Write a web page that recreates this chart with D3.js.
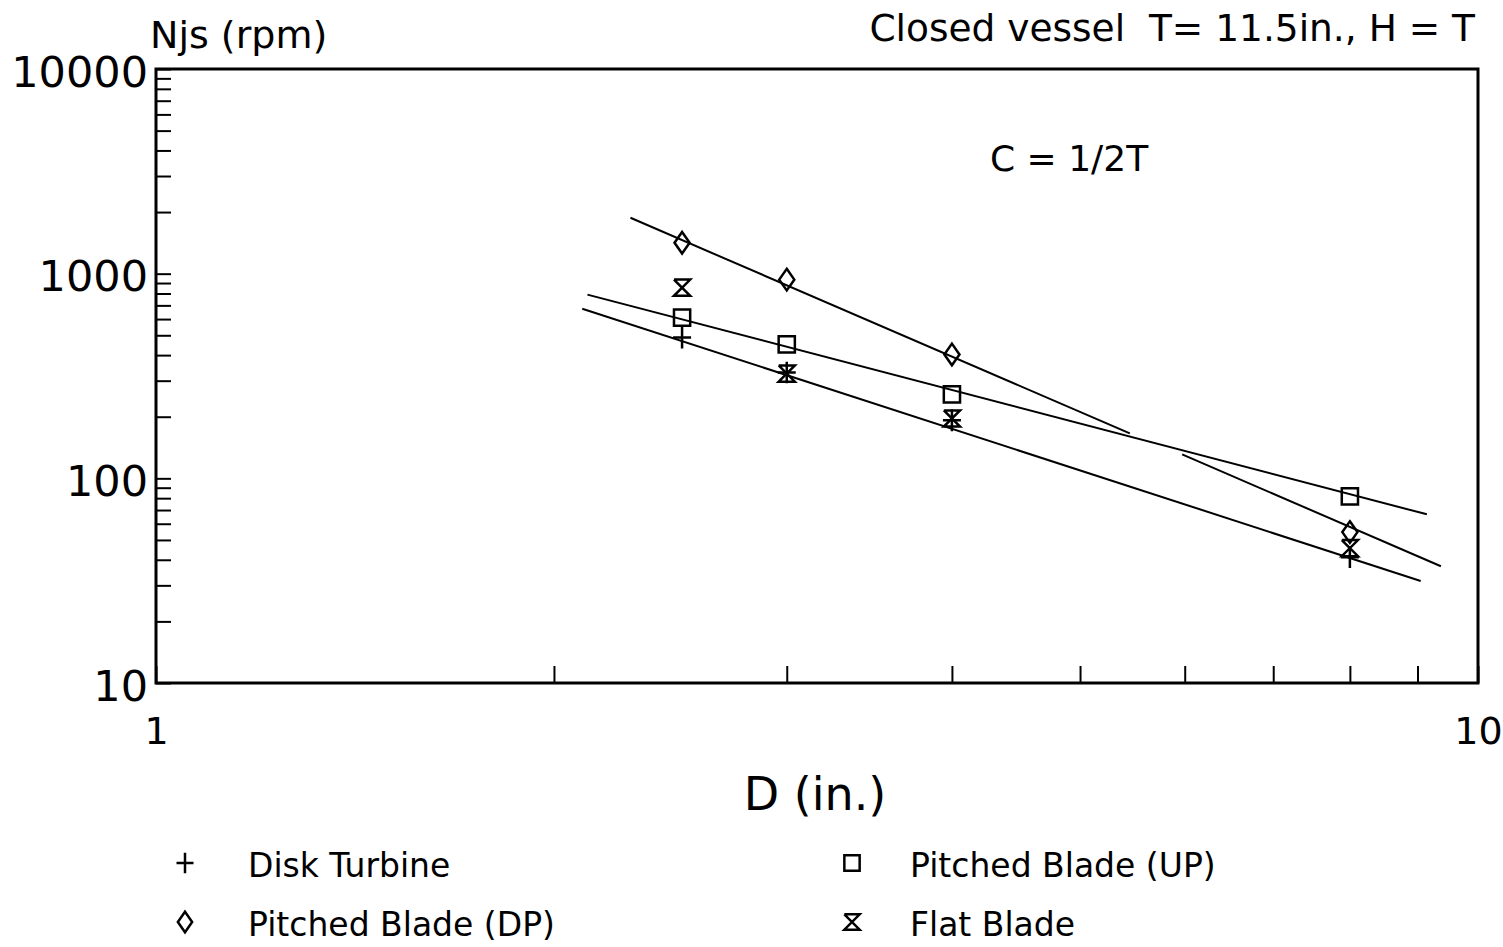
<!DOCTYPE html>
<html>
<head>
<meta charset="utf-8">
<script src="https://cdn.jsdelivr.net/npm/d3@7"></script>
<style>
  body { margin: 0; background: #fff; }
  text { font-family: "DejaVu Sans", sans-serif; fill: #000; }
</style>
</head>
<body>
<svg id="chart"></svg>
<script>
// Data
const diameters = [2.5, 3, 4, 8];
const diskTurbine = [487, 329, 192, 41.2];
const pitchedDP = [1416, 935, 403, 54.6];
const pitchedUP = [610, 451, 257, 81.7];
const flatBlade = [854, 325, 196, 45.6];

// fitted lines (end points, D in inches, Njs in rpm)
const dpFitA = [[2.285, 1875], [5.453, 165.8]];
const dpFitB = [[5.973, 130.9], [9.374, 37.2]];
const upFit = [[2.12, 790], [9.148, 66.7]];
const diskFit = [[2.101, 674], [9.05, 31.5]];

const yMajor = [10, 100, 1000, 10000];
const xLabels = [1, 10];

let width = 1503, height = 947;
let margin = { top: 69, bottom: 264, left: 156, right: 25 };

let svg = d3.select('#chart')
    .attr('width', width)
    .attr('height', height);

let xScale = d3.scaleLog()
    .domain([1, 10])
    .range([margin.left, width - margin.right]);

let yScale = d3.scaleLog()
    .domain([10, 10000])
    .range([height - margin.bottom, margin.top]);

// minor + major ticks
let yTicks = [];
yMajor.slice(0, 3).forEach(d => { for (let k = 1; k < 10; k++) yTicks.push(d * k); });
yTicks.push(10000);
let xTicks = d3.range(1, 11);

let xAxis = svg.append('g')
    .attr('transform', `translate(0, ${height - margin.bottom})`)
    .call(d3.axisBottom(xScale)
        .tickValues(xTicks)
        .tickSize(-17)
        .tickPadding(34)
        .tickFormat(d => xLabels.includes(d) ? d : ''));

let yAxis = svg.append('g')
    .attr('transform', `translate(${margin.left}, 0)`)
    .call(d3.axisLeft(yScale)
        .tickValues(yTicks)
        .tickSize(-15)
        .tickPadding(8)
        .tickFormat(d => yMajor.includes(d) ? d : ''));

svg.selectAll('.domain').remove();
svg.selectAll('.tick line').attr('stroke', '#000').attr('stroke-width', 2);
xAxis.selectAll('text').style('font-size', '38px').attr('fill', '#000');
yAxis.selectAll('text').style('font-size', '43px').attr('dy', '0.4em').attr('fill', '#000');

// frame
svg.append('rect')
    .attr('x', margin.left)
    .attr('y', margin.top)
    .attr('width', width - margin.left - margin.right)
    .attr('height', height - margin.top - margin.bottom)
    .attr('fill', 'none')
    .attr('stroke', '#000')
    .attr('stroke-width', 3);

// fit lines
let line = d3.line().x(d => xScale(d[0])).y(d => yScale(d[1]));
[dpFitA, dpFitB, upFit, diskFit].forEach(f => {
    svg.append('path')
        .attr('d', line(f))
        .attr('fill', 'none')
        .attr('stroke', '#000')
        .attr('stroke-width', 2);
});

// marker shapes
function marker(type, s) {
    let p = d3.path();
    if (type === 'plus') {
        p.moveTo(-s * 0.5, 0); p.lineTo(s * 0.5, 0);
        p.moveTo(0, -s * 0.6); p.lineTo(0, s * 0.6);
    } else if (type === 'diamond') {
        p.moveTo(0, -s * 0.6); p.lineTo(s * 0.42, 0); p.lineTo(0, s * 0.6); p.lineTo(-s * 0.42, 0); p.closePath();
    } else if (type === 'square') {
        p.rect(-s * 0.45, -s * 0.45, s * 0.9, s * 0.9);
    } else if (type === 'hourglass') {
        let h = s * 0.45;
        p.moveTo(-h, -h); p.lineTo(h, -h); p.lineTo(-h, h); p.lineTo(h, h); p.lineTo(-h, -h);
    }
    return p.toString();
}

let series = [
    { name: 'Disk Turbine', values: diskTurbine, type: 'plus' },
    { name: 'Pitched Blade (DP)', values: pitchedDP, type: 'diamond' },
    { name: 'Pitched Blade (UP)', values: pitchedUP, type: 'square' },
    { name: 'Flat Blade', values: flatBlade, type: 'hourglass' }
];

series.forEach(s => {
    svg.selectAll(null)
        .data(s.values)
        .enter()
        .append('path')
        .attr('transform', (d, i) => `translate(${xScale(diameters[i])}, ${yScale(d)})`)
        .attr('d', marker(s.type, 18))
        .attr('fill', 'none')
        .attr('stroke', '#000')
        .attr('stroke-width', 2.5);
});

// titles
svg.append('text')
    .attr('x', 150).attr('y', 48)
    .style('font-size', '38px')
    .text('Njs (rpm)');

svg.append('text')
    .attr('x', 1475).attr('y', 41)
    .attr('text-anchor', 'end')
    .style('font-size', '37.5px')
    .style('white-space', 'pre')
    .text('Closed vessel  T= 11.5in., H = T');

svg.append('text')
    .attr('x', 990).attr('y', 171)
    .style('font-size', '36px')
    .text('C = 1/2T');

svg.append('text')
    .attr('x', 815).attr('y', 810)
    .attr('text-anchor', 'middle')
    .style('font-size', '46px')
    .text('D (in.)');

// legend
let legendPos = [[185, 248, 865], [185, 248, 924], [852, 910, 865], [852, 910, 924]];
series.forEach((s, i) => {
    let [mx, tx, ty] = legendPos[i];
    svg.append('path')
        .attr('transform', `translate(${mx}, ${ty - 2})`)
        .attr('d', marker(s.type, 17))
        .attr('fill', 'none')
        .attr('stroke', '#000')
        .attr('stroke-width', 2.5);
    svg.append('text')
        .attr('x', tx).attr('y', ty)
        .attr('dy', '0.35em')
        .style('font-size', '33px')
        .text(s.name);
});
</script>
</body>
</html>
